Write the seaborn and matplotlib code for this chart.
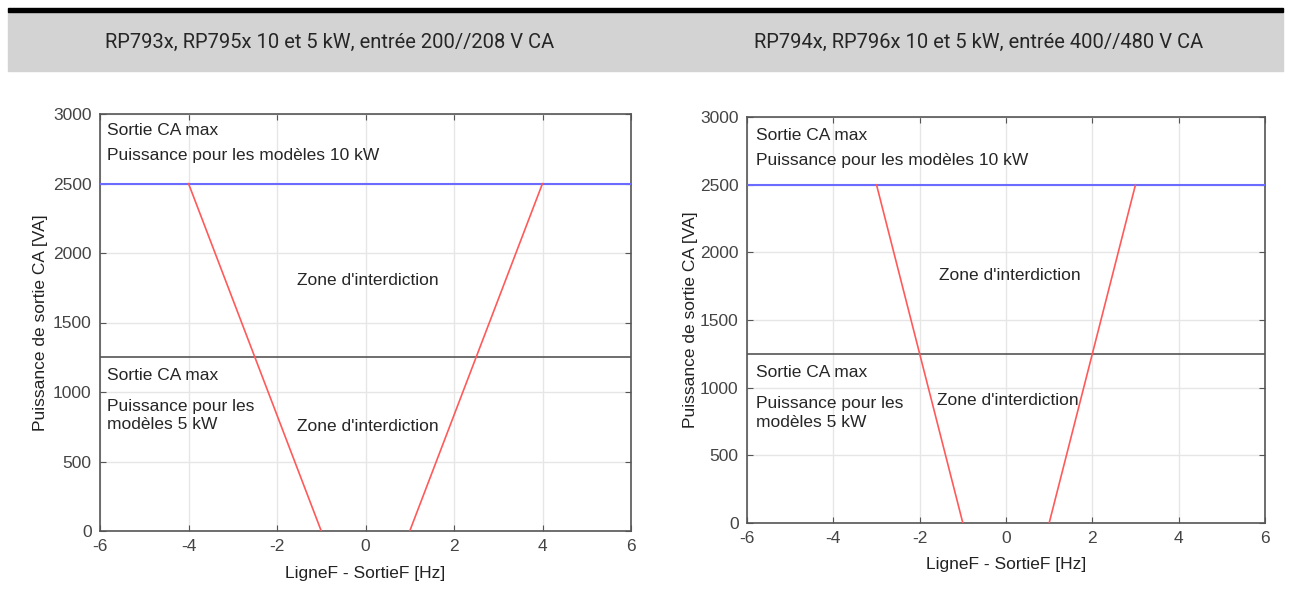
import matplotlib
matplotlib.use("Agg")
import matplotlib.pyplot as plt
import numpy as np
import pandas as pd
import seaborn as sns
from matplotlib.patches import Rectangle

# Data
titles = ["RP793x, RP795x 10 et 5 kW, entrée 200//208 V CA",
          "RP794x, RP796x 10 et 5 kW, entrée 400//480 V CA"]
limit_10kw = 2500
limit_5kw = 1250
# red boundary lines: (x at 0 VA, x at 2500 VA)
left_red_neg = [-1, -4]
left_red_pos = [1, 4]
right_red_neg = [-1, -3]
right_red_pos = [1, 3]
red_y = [0, 2500]
x_ticks = [-6, -4, -2, 0, 2, 4, 6]
y_ticks = [0, 500, 1000, 1500, 2000, 2500, 3000]

sns.set_style("white")
plt.rcParams['font.family'] = ['Liberation Sans', 'DejaVu Sans']
plt.rcParams['axes.unicode_minus'] = False

fig = plt.figure(figsize=(12.91, 6.05), dpi=100)

# header band
fig.patches.append(Rectangle((8 / 1291, 1 - 71 / 605), 1275 / 1291, 59 / 605,
                             transform=fig.transFigure, color="#d3d3d3", zorder=0))
fig.patches.append(Rectangle((8 / 1291, 1 - 12 / 605), 1275 / 1291, 4 / 605,
                             transform=fig.transFigure, color="black", zorder=1))
fig.text(330 / 1291, 1 - 42 / 605, titles[0], ha="center", va="center",
         fontsize=14.5, family=["Roboto", "DejaVu Sans"])
fig.text(979 / 1291, 1 - 42 / 605, titles[1], ha="center", va="center",
         fontsize=14.5, family=["Roboto", "DejaVu Sans"])

ax1 = fig.add_axes([100 / 1291, 74 / 605, 531 / 1291, 417 / 605])
ax2 = fig.add_axes([747 / 1291, 82 / 605, 518 / 1291, 406 / 605])

configs = [
    (ax1, left_red_neg, left_red_pos,
     dict(top=(-5.85, 2880, 2700), zone1=(-1.55, 1800), low=(-5.85, 1120, 830), zone2=(-1.55, 750))),
    (ax2, right_red_neg, right_red_pos,
     dict(top=(-5.78, 2860, 2682), zone1=(-1.55, 1830), low=(-5.78, 1110, 815), zone2=(-1.6, 905))),
]

fs = 12.5
for ax, neg, pos, t in configs:
    ax.set_xlim(-6, 6)
    ax.set_ylim(0, 3000)
    ax.set_xticks(x_ticks)
    ax.set_yticks(y_ticks)
    ax.grid(True, color="#e6e6e6", linewidth=1)
    ax.set_axisbelow(True)

    ax.axhline(limit_10kw, color="#6b6bff", linewidth=1.5, zorder=3)
    ax.axhline(limit_5kw, color="#555555", linewidth=1.2, zorder=3)
    sns.lineplot(x=neg, y=red_y, ax=ax, color="#ff5a5a", linewidth=1.2, zorder=4)
    sns.lineplot(x=pos, y=red_y, ax=ax, color="#ff5a5a", linewidth=1.2, zorder=4)

    for s in ax.spines.values():
        s.set_color("#555555")
        s.set_linewidth(1.2)
    ax.tick_params(direction="in", length=4, color="#555555", labelcolor="#444444",
                   labelsize=12.5, top=True, right=True, bottom=True, left=True, pad=6)

    ax.set_xlabel("LigneF - SortieF [Hz]", fontsize=fs, color="#222222")
    ax.set_ylabel("Puissance de sortie CA [VA]", fontsize=fs, color="#222222")

    x0, y_a, y_b = t["top"]
    ax.text(x0, y_a, "Sortie CA max", fontsize=fs, va="center")
    ax.text(x0, y_b, "Puissance pour les modèles 10 kW", fontsize=fs, va="center")
    ax.text(t["zone1"][0], t["zone1"][1], "Zone d'interdiction", fontsize=fs, va="center")
    x0, y_a, y_b = t["low"]
    ax.text(x0, y_a, "Sortie CA max", fontsize=fs, va="center")
    ax.text(x0, y_b, "Puissance pour les\nmodèles 5 kW", fontsize=fs, va="center",
            linespacing=1.3)
    ax.text(t["zone2"][0], t["zone2"][1], "Zone d'interdiction", fontsize=fs, va="center")

ax1.yaxis.set_label_coords(-0.097, 0.5)
ax2.yaxis.set_label_coords(-0.095, 0.5)
ax1.xaxis.set_label_coords(0.5, -0.085)
ax2.xaxis.set_label_coords(0.5, -0.083)

fig.savefig("out.png", dpi=100)
